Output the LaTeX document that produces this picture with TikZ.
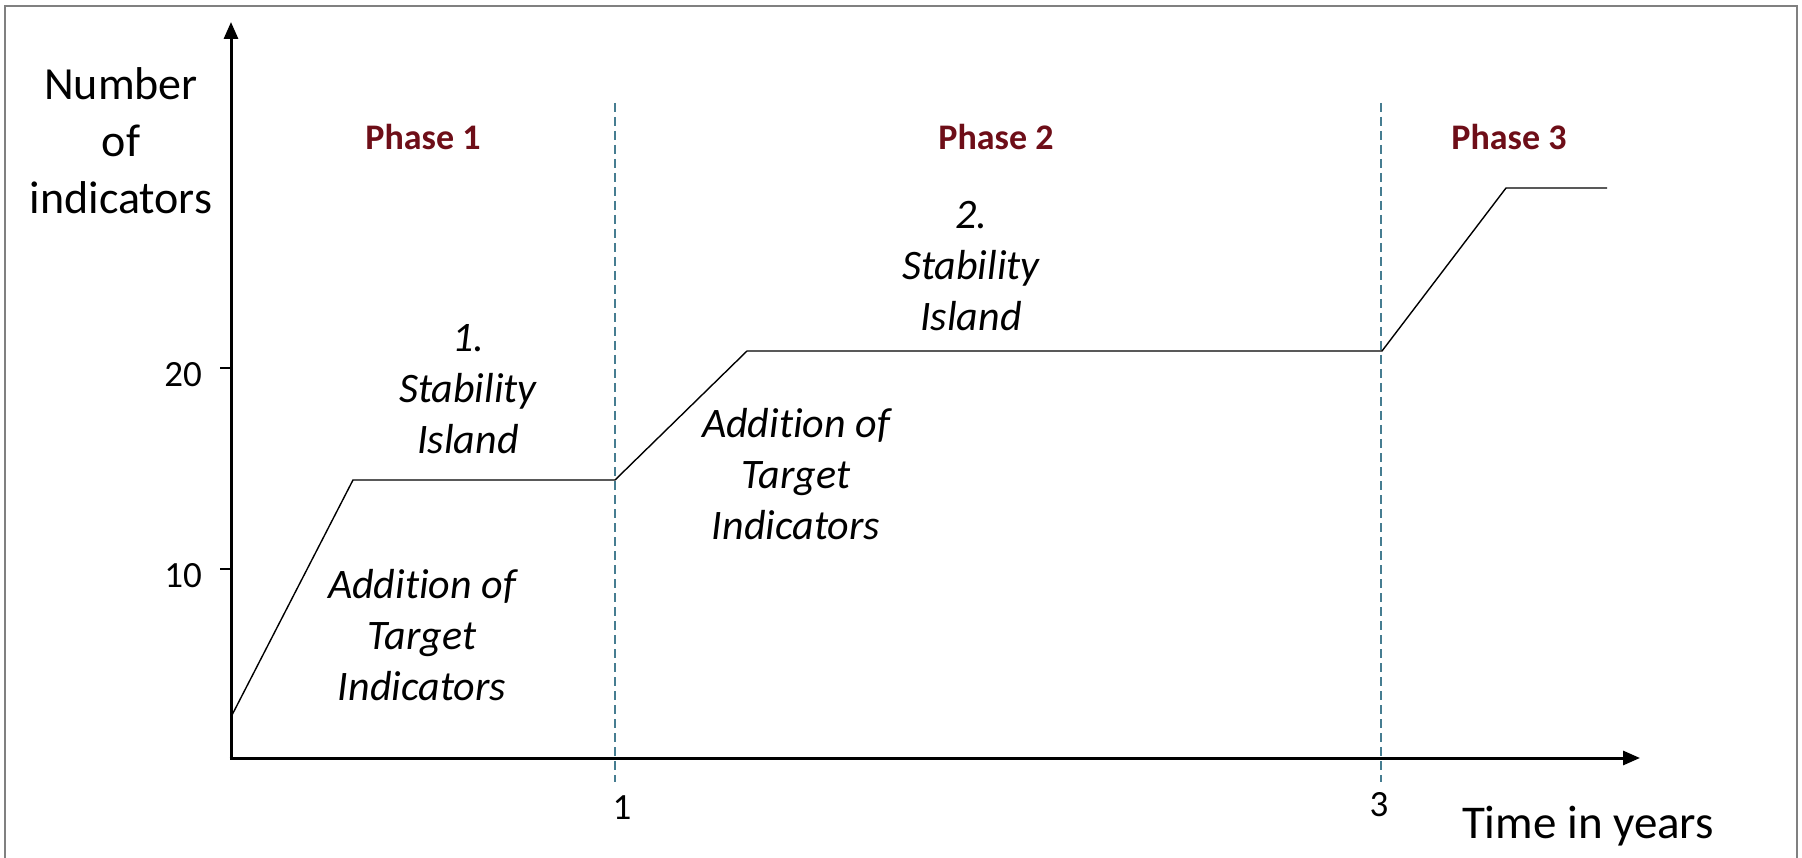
\documentclass[tikz,border=0pt]{standalone}
\usepackage{fontspec}
\setmainfont{Carlito}[Ligatures=NoCommon]
\usetikzlibrary{arrows.meta}
\definecolor{phasered}{RGB}{110,14,24}
\definecolor{dashblue}{RGB}{70,125,145}
\definecolor{framegray}{RGB}{128,128,128}
\tikzset{
  axisline/.style={line width=3pt,-{Triangle[length=17pt,width=14pt]}},
  curveline/.style={line width=1.4pt,line join=miter},
  phaseline/.style={dashblue,line width=1.6pt,dash pattern=on 9pt off 5pt},
  ticklbl/.style={font=\fontsize{37}{40}\selectfont,inner sep=0pt},
  phaselbl/.style={font=\fontsize{36}{40}\selectfont\bfseries,text=phasered,inner sep=0pt},
  itlbl/.style={font=\fontsize{42}{51}\selectfont\itshape,align=center,inner sep=0pt},
  axislbl/.style={font=\fontsize{46}{57}\selectfont,align=center,inner sep=0pt}
}
\begin{document}
\begin{tikzpicture}[x=1pt,y=-1pt]
\useasboundingbox (0,0) rectangle (1802,858);
\fill[white] (0,0) rectangle (1802,858);
% frame (left, top, right)
\draw[framegray,line width=2.2pt] (5,858) -- (5,6) -- (1797,6) -- (1797,858);

% coordinates
\coordinate (O) at (231,758);
\coordinate (ytop) at (231,22);
\coordinate (xend) at (1640,758);
\coordinate (t20) at (220,368);
\coordinate (t20b) at (231,368);
\coordinate (t10) at (220,569);
\coordinate (t10b) at (231,569);
\coordinate (d1top) at (615,103);
\coordinate (d1bot) at (615,782);
\coordinate (d3top) at (1381,103);
\coordinate (d3bot) at (1381,782);

\coordinate (c0) at (231,717);
\coordinate (c1) at (353,480);
\coordinate (c2) at (615,480);
\coordinate (c3) at (747,351);
\coordinate (c4) at (1382,351);
\coordinate (c5) at (1506,188);
\coordinate (c6) at (1607,188);

% phase separators
\draw[phaseline] (d1top) -- (d1bot);
\draw[phaseline] (d3top) -- (d3bot);

% curve
\draw[curveline] (c0) -- (c1) -- (c2) -- (c3) -- (c4) -- (c5) -- (c6);

% axes
\draw[axisline] (O) -- (ytop);
\draw[axisline] ([xshift=-1.5pt]O) -- (xend);
\draw[line width=1.5pt] (t20) -- (t20b);
\draw[line width=1.5pt] (t10) -- (t10b);

% labels
\node[axislbl] (ylab) at (121,141) {Number\\of\\indicators};
\node[axislbl,font=\fontsize{47}{57}\selectfont] (xlab) at (1588,826) {Time in years};
\node[ticklbl,anchor=east] (l20) at (202,375) {20};
\node[ticklbl,anchor=east] (l10) at (202,576) {10};
\node[ticklbl] (l1) at (622,808) {1};
\node[ticklbl] (l3) at (1379,805) {3};

\node[phaselbl] (p1) at (423,137) {Phase 1};
\node[phaselbl] (p2) at (996,137) {Phase 2};
\node[phaselbl] (p3) at (1509,137) {Phase 3};

\node[itlbl] (s1) at (468,389) {1.\\Stability\\Island};
\node[itlbl] (a1) at (422,635) {Addition of\\Target\\Indicators};
\node[itlbl] (s2) at (971,266) {2.\\Stability\\Island};
\node[itlbl] (a2) at (796,474) {Addition of\\Target\\Indicators};
\end{tikzpicture}
\end{document}
